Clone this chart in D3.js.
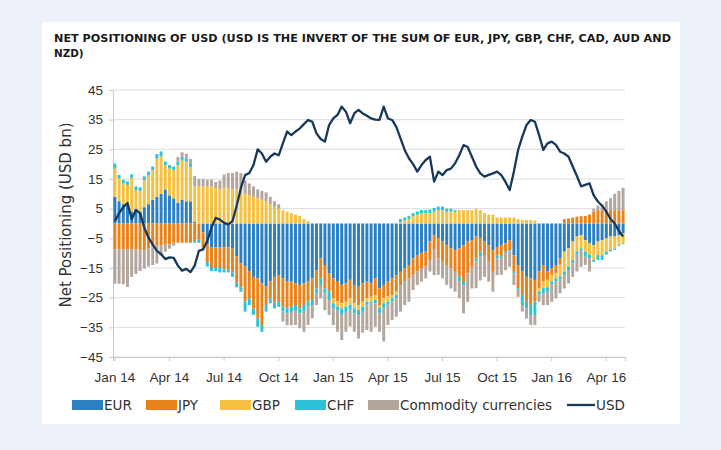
<!DOCTYPE html>
<html><head><meta charset="utf-8">
<script src="https://cdn.jsdelivr.net/npm/d3@7"></script>
<style>
body{margin:0;background:#edf1f9;}
svg{display:block;font-family:"DejaVu Sans",Verdana,sans-serif;}
</style></head><body>
<svg id="c" width="721" height="450"></svg>
<script>
// ---- data (USD bn, weekly, Jan 2014 - May 2016) ----
const startWeek = "2014-01-07";
const EUR = [9,7.5,6.5,6,4,5,4,5.5,6.5,8,9,10,11.5,9.5,8.5,7,8,7.5,7.5,
  0.5,0,-3,-7,-8,-8,-8,-8,-8,-8.5,-11,
  -13.5,-14.5,-16.2,-18,-18.5,-20.2,-21.3,-19.5,-18,-17.4,-18.5,-19.6,-19.6,-20.2,-20.7,-20.2,-19.6,-18.5,-15.7,-11.7,-14,-16.8,-18.5,-19.6,-20.7,-20.2,-19,-20.7,-21.3,-20.2,
  -19.6,-20.2,-18.5,-21.9,-20.7,-19.6,-18.5,-17.4,-16.3,-15.1,-14,-11.7,-10.6,-10,-9.5,-6.1,-3.9,-5,-6.1,-7.3,-8.4,-9,-8.4,-7.3,-6.1,-5.6,-4.4,-5,-6.1,-7.3,-9,
  -7.9,-7.3,-6.7,-5.6,-10.7,-14,-16.2,-18,-18.5,-19,-16.2,-14,-16.2,-15.1,-14,-11.7,-9.5,-8.4,-6.1,-4.4,-3.9,-5.6,-6.7,-7.3,-6.1,-5.6,-5,-4.4,-4.4,-3.9,-3.3];
const JPY = [-8.7,-8.7,-8.7,-8.7,-8.7,-8.7,-9,-9,-8.5,-8,-7.5,-7.5,-7,-7,-6.5,-6.5,-6.5,-6.5,-6.5,
  -6,-5.5,-5,-6,-7,-7,-7,-7.5,-7.5,-8,-9,
  -8,-11.8,-9,-10.7,-13.5,-14,-6.2,-5.7,-8.6,-9,-9.5,-9,-8.5,-7.3,-7.9,-7.3,-6.7,-7.3,-6.2,-6.8,-7.9,-6.2,-6.7,-6.7,-6.2,-6.2,-6.2,-6.2,-6.2,-6.2,
  -5.6,-4.5,-5.6,-5.6,-4.5,-5,-5.6,-5.6,-4.5,-4.5,-4.5,-5.6,-5.6,-5,-5,-6.2,-5,-6.7,-6.8,-6.7,-6.7,-7.3,-9.5,-12.4,-10.7,-9,-7.3,-4.5,-4.5,-5.6,-7.3,
  -2.8,-3.9,-2.8,-3.4,-5.6,-7.9,-7.9,-8.4,-9,-7.3,-5.7,-5.6,-2.8,-2.2,-2.8,-2.2,1.5,1.7,2,2.3,2.5,2.5,3,4,4.5,4.5,4.5,4.5,4.5,4.5,4.5];
const GBP = [9.5,7.7,7,7,11.4,6.3,7,9.2,9.8,10,12.9,12.8,8.2,9,9.5,12.7,13.3,13.3,11.6,
  12,12.5,12.5,12.5,12.5,12,11.5,12,12,11.5,11.5,
  11,10,9.5,9,8.5,8,7.5,6.5,5.5,5,4.5,4,3.5,3,2.5,1.5,0.8,0,0,0,0,0,-1.7,-1.7,-1.7,-1.7,-2.2,-1.7,-1.7,-1.7,
  -1.2,-1.7,-1.7,-1,-1.7,-1.7,-1.1,-1.1,0.5,1,1.5,2.5,3,3.5,3.5,3.5,4,4.5,4.5,4,4,4,4.5,4.5,4.5,4.5,5,4.5,3.5,3,3,
  2,2,2,2,2,1.5,1.2,1.2,1.2,1,-1,-2.2,-2.5,-2.2,-1.7,-3.9,-6.7,-6.2,-6.2,-5,-4.5,-3.9,-3.9,-5,-4.5,-5.1,-4.5,-4.5,-4,-3.4,-3.4];
const CHF = [1.7,1.2,1.2,1.2,1.2,1.2,1.2,1.2,1.2,1.2,1.5,1.5,1.2,1.2,1.2,1.2,1.2,1.2,1.2,
  -0.5,-1,-1,-1.5,-1,-1,-1.5,-1,-1,-1.5,-1.5,
  -1.5,-3.4,-2.3,-2.1,-2.8,-2.3,-2.2,-1.7,-2,-1.7,-1.7,-1.7,-1.7,-1.7,-1.7,-2.2,-1.7,-1.7,-1.7,-2.2,-1.7,-2.8,-1.7,-1.1,-2.2,-1.7,-1.7,-1.7,-1.7,-1.7,
  -1,-0.5,-1.1,-1.7,-1.7,-1.1,-1.1,-1.1,1,1,1,1,1,1,1,1.2,1.2,1.2,1.2,1,1,0.5,-1.5,-1.1,0,0,-1.1,-1.7,0,0,0,
  -1.1,-0.5,-0.5,-0.5,-0.5,-0.5,-3.4,-2.2,-3.4,-4.5,-1,-1.7,-1.5,-1.1,-1.1,-1.1,-1.1,-1.1,-1.1,-1.1,-0.5,-1.7,-1.1,-0.6,-1.7,-1.6,-1,-0.5,-0.5,-0.3,-0.3];
const COMM = [-11.6,-11.6,-11.8,-12.7,-9.3,-8.3,-7,-6.2,-6,-6,-6,-3.5,-2.5,-1.5,-1,1.5,1.5,1.5,1.5,
  3.5,2.5,2.5,2.3,2.3,2,3,4.5,5,5.5,6,
  6,4.5,4,3.5,3,3,3,2.5,2,1.5,-3.3,-4,-4.5,-5,-5,-6.8,-6.2,-4.5,-3.9,-4.5,-5.6,-5,-5.6,-7.4,-8.5,-6.7,-5.6,-6.2,-7.9,-7,
  -8.5,-9.6,-7.9,-6.3,-11.2,-6.8,-6.2,-6.2,-8.9,-7.9,-7.9,-5.1,-4.5,-4.6,-4,-3.9,-8.5,-5.6,-5.6,-6.7,-6.8,-6.7,-5.8,-9.5,-9.6,-7.3,-9,-8,-7.4,-6.7,-6.7,
  -5.6,-5.6,-5.7,-5.1,-3.9,-2.3,-2.2,-3.4,-3.3,-3.4,-2.5,-4,-4.5,-5.8,-5.6,-4.6,-4.6,-4.5,-4.6,-5.7,-5.7,-2.8,-4.5,1,1.5,2,3,4,5.5,6.5,7.5];
const USD = [0.8,3.5,5.5,6.9,1.5,4.5,3.5,-1.4,-4.8,-7,-9.2,-10.3,-12,-11.4,-11.6,-14.2,-15.9,-15.3,-16.4,
  -14.2,-9.2,-8.7,-5.9,-1.4,1.9,1.3,0.2,-0.3,0.8,6,
  12,16.3,17,19.7,25,23.6,20.8,22.5,23.6,23,27,31,29.8,31,32,33.5,34.9,34.3,30.4,28.5,27.6,33.2,35.4,36.6,39.4,37.7,33.8,37.1,38.3,37.1,
  36.3,35.4,35,34.9,39.4,35.4,34.9,32.6,28.7,24.8,22,20,17.5,19.7,21.4,22.5,14.1,17.5,16.3,18,18.5,20.3,23,26.4,25.8,22.5,19.2,16.9,15.8,16.4,16.9,
  17.5,16.3,14,11.3,17.5,24.8,29.3,33.2,34.9,34.3,29.8,24.8,27,27.6,26.5,24.2,23.6,22.5,19.2,16,12.5,13,13.5,9.5,7.4,6,4,1.5,0,-2.5,-4.4];
const seriesNames = ["EUR","JPY","GBP","CHF","Commodity currencies"];
const seriesColors = ["#2b7fc3","#e8831c","#f6c141","#2cc3d6","#b3a79d"];
const usdColor = "#17395c";
const yTicks = [45,35,25,15,5,-5,-15,-25,-35,-45];
const xTickLabels = ["Jan 14","Apr 14","Jul 14","Oct 14","Jan 15","Apr 15","Jul 15","Oct 15","Jan 16","Apr 16"];
const titleLines = ["NET POSITIONING OF USD (USD IS THE INVERT OF THE SUM OF EUR, JPY, GBP, CHF, CAD, AUD AND","NZD)"];

// ---- build ----
const n = USD.length;
const t0 = d3.isoParse(startWeek);
const weeks = d3.range(n).map(i => d3.timeWeek.offset(t0, i));
const src = [EUR,JPY,GBP,CHF,COMM];
const rows = weeks.map((w,i) => { const r = {week:w}; seriesNames.forEach((k,j)=> r[k]=src[j][i]); return r; });
const stack = d3.stack().keys(seriesNames).offset(d3.stackOffsetDiverging)(rows);

const svg = d3.select('#c');
svg.append('rect').attr('x',42).attr('y',22).attr('width',638).attr('height',402).attr('fill','#fff');

svg.append('g').selectAll('text').data(titleLines).join('text')
  .attr('x',54).attr('y',(d,i)=>42+i*15)
  .attr('font-family','"DejaVu Sans",sans-serif')
  .attr('font-weight','bold').attr('font-size',10.4).attr('fill','#1a1a1a')
  .attr('textLength',(d,i)=> i===0 ? 617 : null).attr('lengthAdjust','spacingAndGlyphs')
  .text(d=>d);

const x = d3.scaleBand().domain(weeks).range([113,625]).paddingInner(0.3).paddingOuter(0.1);
const y = d3.scaleLinear().domain([-45,45]).range([357,90]);

// gridlines
svg.append('g').selectAll('line').data(yTicks).join('line')
  .attr('x1',113).attr('x2',625).attr('y1',d=>y(d)).attr('y2',d=>y(d))
  .attr('stroke','#dcdcdc').attr('stroke-width',1);

// y axis
const ya = svg.append('g').attr('transform','translate(113,0)')
  .call(d3.axisLeft(y).tickValues(yTicks).tickSize(4).tickPadding(6).tickFormat(d3.format('d')));
ya.select('.domain').attr('stroke','#c8c8c8');
ya.selectAll('.tick line').attr('stroke','#c8c8c8');
ya.selectAll('text').attr('font-size',13.5).attr('fill','#333');

// x axis
const tickWeeks = xTickLabels.map((l,i)=>weeks[i*13]);
const xa = svg.append('g').attr('transform','translate(0,357)')
  .call(d3.axisBottom(x).tickValues(tickWeeks).tickSize(4).tickPadding(11).tickFormat((d,i)=>xTickLabels[i]));
xa.select('.domain').attr('stroke','#c8c8c8');
xa.selectAll('.tick line').attr('stroke','#c8c8c8');
xa.selectAll('text').attr('font-size',13.5).attr('fill','#333');

// bars
svg.append('g').selectAll('g').data(stack).join('g')
  .attr('fill',(d,i)=>seriesColors[i])
  .selectAll('rect').data(d=>d).join('rect')
  .attr('x',d=>x(d.data.week)).attr('width',x.bandwidth())
  .attr('y',d=>y(Math.max(d[0],d[1]))).attr('height',d=>Math.abs(y(d[0])-y(d[1])));

// USD line
const line = d3.line().x((d,i)=>x(weeks[i])+x.bandwidth()/2).y(d=>y(d)).curve(d3.curveLinear);
svg.append('path').datum(USD).attr('d',line).attr('fill','none')
  .attr('stroke',usdColor).attr('stroke-width',2.3).attr('stroke-linejoin','round');

// y title
svg.append('text').attr('transform','translate(71,215) rotate(-90)').attr('text-anchor','middle')
  .attr('font-size',15).attr('fill','#333').text('Net Positioning (USD bn)');

// legend
const legX = [72,146,220,295,368];
const lg = svg.append('g');
seriesNames.forEach((k,i)=>{
  lg.append('rect').attr('x',legX[i]).attr('y',400).attr('width',31).attr('height',10).attr('fill',seriesColors[i]);
  lg.append('text').attr('x',legX[i]+32).attr('y',410).attr('font-size',13.5).attr('fill','#333').text(k);
});
lg.append('line').attr('x1',567).attr('x2',595).attr('y1',405).attr('y2',405).attr('stroke',usdColor).attr('stroke-width',2.3);
lg.append('text').attr('x',596).attr('y',410).attr('font-size',13.5).attr('fill','#333').text('USD');
</script></body></html>
